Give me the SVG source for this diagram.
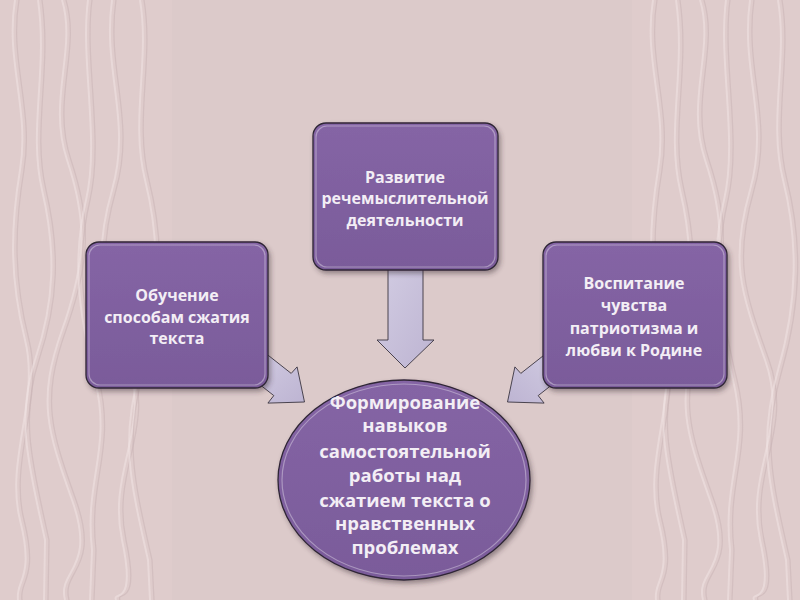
<svg xmlns="http://www.w3.org/2000/svg" width="800" height="600" viewBox="0 0 800 600">
<defs>
<style>
.t{font-family:"Open Sans","Liberation Sans",sans-serif;font-weight:700;fill:#f3eef5;text-anchor:middle}
.bx{font-size:16px}
.el{font-size:18.5px}
.node{fill:url(#pg);stroke:#2f2536;stroke-width:1.3}
.hl{fill:none;stroke:#ffffff;stroke-opacity:0.35;stroke-width:1.2}
.arr{fill:url(#ag);stroke:#3a3440;stroke-width:0.9}
.wv{fill:none;stroke:#f0e3e3;stroke-width:2;stroke-opacity:0.55}
.wd{fill:none;stroke:#c7b2b4;stroke-width:1.2;stroke-opacity:0.5}
</style>
<linearGradient id="pg" x1="0" y1="0" x2="0" y2="1">
<stop offset="0" stop-color="#8565a5"/>
<stop offset="1" stop-color="#7a5b9a"/>
</linearGradient>
<linearGradient id="ag" x1="0" y1="0" x2="1" y2="1">
<stop offset="0" stop-color="#d3cde3"/>
<stop offset="1" stop-color="#bdb4d2"/>
</linearGradient>
<filter id="sh" x="-10%" y="-10%" width="125%" height="125%">
<feDropShadow dx="2" dy="3" stdDeviation="2.5" flood-color="#3a2a30" flood-opacity="0.45"/>
</filter>
<g id="wave">
<path class="wv" d="M15 0 C5 60 30 110 20 170 S10 280 25 340 S5 460 20 520 S15 580 18 600"/>
<path class="wd" d="M19 0 C9 60 34 110 24 170 S14 280 29 340 S9 460 24 520 S19 580 22 600"/>
<path class="wv" d="M38 0 C48 70 28 130 42 190 S55 300 35 360 S30 470 45 540 L44 600"/>
<path class="wd" d="M42 0 C52 70 32 130 46 190 S59 300 39 360 S34 470 49 540 L48 600"/>
<path class="wv" d="M62 0 C77 50 47 100 67 160 S87 260 62 330 S47 430 72 500 S57 570 65 600"/>
<path class="wd" d="M66 0 C81 50 51 100 71 160 S91 260 66 330 S51 430 76 500 S61 570 69 600"/>
<path class="wv" d="M88 0 C80 60 100 140 86 200 S78 310 95 380 S84 480 92 550 L90 600"/>
<path class="wd" d="M92 0 C84 60 104 140 90 200 S82 310 99 380 S88 480 96 550 L94 600"/>
<path class="wv" d="M112 0 C102 70 132 120 112 190 S102 290 127 360 S107 470 122 540 S112 590 116 600"/>
<path class="wd" d="M116 0 C106 70 136 120 116 190 S106 290 131 360 S111 470 126 540 S116 590 120 600"/>
<path class="wv" d="M140 0 C150 60 130 120 145 180 S160 300 140 370 S130 480 148 560 L150 600"/>
<path class="wd" d="M144 0 C154 60 134 120 149 180 S164 300 144 370 S134 480 152 560 L154 600"/>
</g>
</defs>
<rect width="800" height="600" fill="#dccaca"/>
<g id="bg-left">
<rect x="0" y="0" width="172" height="600" fill="#dfcccc"/>
<use href="#wave"/>
</g>
<g id="bg-right">
<rect x="632" y="0" width="168" height="600" fill="#dfcccc"/>
<use href="#wave" transform="translate(638,0)"/>
</g>
<g id="connectors">
<polygon class="arr" points="388,260 423,260 423,340 434,340 405,368 377,340 388,340"/>
<polygon class="arr" points="263.6,351.7 291.2,373.4 297.1,366.9 304.5,402 267.9,403.1 273.8,395.6 246.2,373.9"/>
<polygon class="arr" transform="translate(812,0) scale(-1,1)" points="263.6,351.7 291.2,373.4 297.1,366.9 304.5,402 267.9,403.1 273.8,395.6 246.2,373.9"/>
</g>
<g id="node-top">
<rect class="node" filter="url(#sh)" x="313" y="123" width="185" height="147" rx="13"/>
<rect class="hl" x="316" y="126" width="179" height="141" rx="11"/>
<text class="t bx" x="405" y="183">Развитие</text>
<text class="t bx" x="405" y="204">речемыслительной</text>
<text class="t bx" x="405" y="226">деятельности</text>
</g>
<g id="node-left">
<rect class="node" filter="url(#sh)" x="86" y="242" width="182" height="146" rx="13"/>
<rect class="hl" x="89" y="245" width="176" height="140" rx="11"/>
<text class="t bx" x="177" y="301">Обучение</text>
<text class="t bx" x="177" y="323">способам сжатия</text>
<text class="t bx" x="177" y="344">текста</text>
</g>
<g id="node-right">
<rect class="node" filter="url(#sh)" x="543" y="242" width="184" height="146" rx="13"/>
<rect class="hl" x="546" y="245" width="178" height="140" rx="11"/>
<text class="t bx" x="634" y="289">Воспитание</text>
<text class="t bx" x="634" y="311">чувства</text>
<text class="t bx" x="634" y="334">патриотизма и</text>
<text class="t bx" x="634" y="356">любви к Родине</text>
</g>
<g id="node-center">
<ellipse class="node" filter="url(#sh)" cx="404" cy="480" rx="126" ry="100"/>
<ellipse class="hl" cx="404" cy="480" rx="122" ry="96"/>
<text class="t el" x="405" y="409">Формирование</text>
<text class="t el" x="405" y="432">навыков</text>
<text class="t el" x="405" y="458">самостоятельной</text>
<text class="t el" x="405" y="482">работы над</text>
<text class="t el" x="405" y="507">сжатием текста о</text>
<text class="t el" x="405" y="530">нравственных</text>
<text class="t el" x="405" y="554">проблемах</text>
</g>
</svg>
